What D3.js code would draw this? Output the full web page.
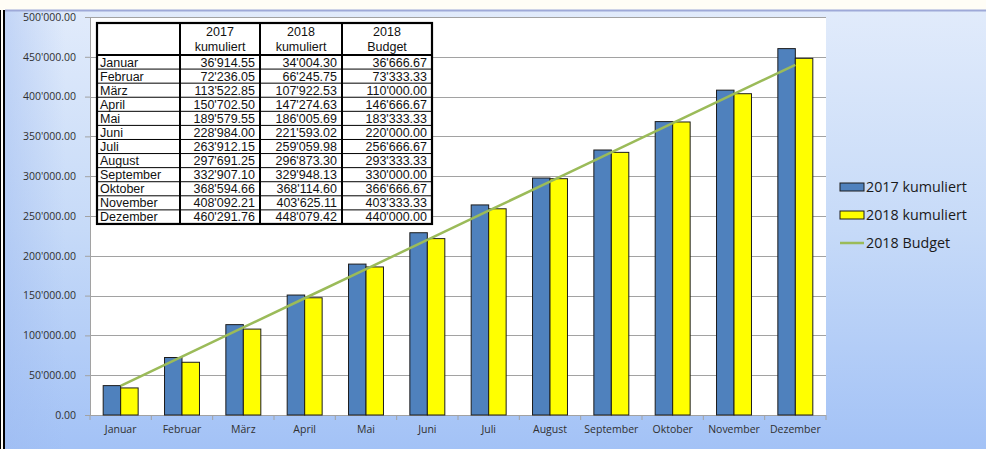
<!DOCTYPE html>
<html>
<head>
<meta charset="utf-8">
<script src="https://cdn.jsdelivr.net/npm/d3@7"></script>
<style>
  body { margin: 0; background: #fffdf6; }
  svg { display: block; }
  .tick text { font-family: "Open Sans", sans-serif; font-size: 10.5px; fill: #303030; }
  .tbl text { font-family: "Liberation Sans", Arial, sans-serif; font-size: 12.5px; fill: #111; }
  .legend text { font-family: "Open Sans", sans-serif; font-size: 14.3px; fill: #1a1a1a; }
</style>
</head>
<body>
<div class="chart"></div>
<script>
var months = ["Januar", "Februar", "März", "April", "Mai", "Juni", "Juli", "August", "September", "Oktober", "November", "Dezember"];
var kum2017 = [36914.55, 72236.05, 113522.85, 150702.50, 189579.55, 228984.00, 263912.15, 297691.25, 332907.10, 368594.66, 408092.21, 460291.76];
var kum2018 = [34004.30, 66245.75, 107922.53, 147274.63, 186005.69, 221593.02, 259059.98, 296873.30, 329948.13, 368114.60, 403625.11, 448079.42];
var budget2018 = [36666.67, 73333.33, 110000.00, 146666.67, 183333.33, 220000.00, 256666.67, 293333.33, 330000.00, 366666.67, 403333.33, 440000.00];
var seriesNames = ["2017 kumuliert", "2018 kumuliert", "2018 Budget"];
var headerTop = ["2017", "2018", "2018"];
var headerBottom = ["kumuliert", "kumuliert", "Budget"];

var svgWidth = 986;
var svgHeight = 449;
var plot = { left: 90, right: 826, top: 17, bottom: 415 };

var fmt = d3.formatLocale({ decimal: ".", thousands: "'", grouping: [3], currency: ["", ""] }).format(",.2f");

var svg = d3.select(".chart")
  .append("svg")
  .attr("width", svgWidth)
  .attr("height", svgHeight);

var defs = svg.append("defs");
var bg = defs.append("linearGradient").attr("id", "bg").attr("x1", 0).attr("y1", 0).attr("x2", 0).attr("y2", 1);
bg.append("stop").attr("offset", "0%").attr("stop-color", "#e1ebfb");
bg.append("stop").attr("offset", "50%").attr("stop-color", "#c6daf8");
bg.append("stop").attr("offset", "100%").attr("stop-color", "#a3c2f6");
var side = defs.append("linearGradient").attr("id", "side").attr("x1", 0).attr("y1", 0).attr("x2", 1).attr("y2", 0);
side.append("stop").attr("offset", "0%").attr("stop-color", "#9dbaf0").attr("stop-opacity", 0.45);
side.append("stop").attr("offset", "100%").attr("stop-color", "#9dbaf0").attr("stop-opacity", 0);

// background of the chart frame
svg.append("rect").attr("x", 0).attr("y", 0).attr("width", svgWidth).attr("height", 10).attr("fill", "#fffdf6");
svg.append("rect").attr("x", 5).attr("y", 10).attr("width", svgWidth - 5).attr("height", svgHeight - 10).attr("fill", "url(#bg)");
svg.append("rect").attr("x", 5).attr("y", 10).attr("width", 60).attr("height", svgHeight - 10).attr("fill", "url(#side)");
svg.append("line").attr("x1", 5).attr("x2", svgWidth).attr("y1", 10.5).attr("y2", 10.5)
  .attr("stroke", "#9ea9d8").attr("stroke-width", 2);
svg.append("line").attr("x1", 4).attr("x2", 4).attr("y1", 10).attr("y2", svgHeight)
  .attr("stroke", "#000").attr("stroke-width", 2);
svg.append("line").attr("x1", 0.5).attr("x2", 0.5).attr("y1", 10).attr("y2", svgHeight)
  .attr("stroke", "#000").attr("stroke-width", 1);

// plot area
svg.append("rect")
  .attr("x", plot.left).attr("y", plot.top)
  .attr("width", plot.right - plot.left).attr("height", plot.bottom - plot.top)
  .attr("fill", "#fff");

var yScale = d3.scaleLinear().domain([0, 500000]).range([plot.bottom, plot.top]);
var xScale = d3.scaleBand().domain(months).range([plot.left, plot.right])
  .paddingInner(0.43).paddingOuter(0.215);
var xStep = xScale.step();

// grid lines
svg.append("g")
  .selectAll("line")
  .data(yScale.ticks(10).filter(function(d) { return d > 0; }))
  .enter().append("line")
  .attr("x1", plot.left).attr("x2", plot.right)
  .attr("y1", function(d) { return Math.round(yScale(d)) + 0.5; })
  .attr("y2", function(d) { return Math.round(yScale(d)) + 0.5; })
  .attr("stroke", "#a2a2a2").attr("stroke-width", 1.2);

// y axis
var leftAxis = d3.axisLeft(yScale).ticks(10).tickFormat(fmt).tickSize(5).tickPadding(9);
var yAxis = svg.append("g")
  .attr("transform", "translate(" + plot.left + ",0)")
  .call(leftAxis);
yAxis.select(".domain").attr("stroke", "#a2a2a2");
yAxis.selectAll(".tick line").attr("stroke", "#a2a2a2");

// x axis
var bottomAxis = d3.axisBottom(xScale).tickSize(0).tickPadding(11);
var xAxis = svg.append("g")
  .attr("transform", "translate(0," + plot.bottom + ")")
  .call(bottomAxis);
xAxis.select(".domain").remove();
svg.append("line").attr("x1", plot.left - 5).attr("x2", plot.right)
  .attr("y1", plot.bottom + 0.5).attr("y2", plot.bottom + 0.5)
  .attr("stroke", "#a2a2a2").attr("stroke-width", 1.2);
svg.append("g")
  .selectAll("line")
  .data(d3.range(months.length + 1))
  .enter().append("line")
  .attr("x1", function(i) { return plot.left + i * xStep; })
  .attr("x2", function(i) { return plot.left + i * xStep; })
  .attr("y1", plot.bottom).attr("y2", plot.bottom + 5)
  .attr("stroke", "#a2a2a2");

// bars
var barW = xScale.bandwidth() / 2;
var bars = svg.append("g");
bars.selectAll(".b17")
  .data(months)
  .enter().append("rect")
  .attr("x", function(d) { return xScale(d); })
  .attr("y", function(d, i) { return yScale(kum2017[i]); })
  .attr("width", barW)
  .attr("height", function(d, i) { return plot.bottom - yScale(kum2017[i]); })
  .attr("fill", "#4f81bd").attr("stroke", "#1c1c1c").attr("stroke-width", 1);
bars.selectAll(".b18")
  .data(months)
  .enter().append("rect")
  .attr("x", function(d) { return xScale(d) + barW; })
  .attr("y", function(d, i) { return yScale(kum2018[i]); })
  .attr("width", barW)
  .attr("height", function(d, i) { return plot.bottom - yScale(kum2018[i]); })
  .attr("fill", "#ffff00").attr("stroke", "#1c1c1c").attr("stroke-width", 1);

// budget line
var line = d3.line()
  .x(function(d, i) { return xScale(months[i]) + xScale.bandwidth() / 2; })
  .y(function(d) { return yScale(d); });
svg.append("path")
  .datum(budget2018)
  .attr("d", line)
  .attr("fill", "none").attr("stroke", "#9bbb59").attr("stroke-width", 2.5);

// data table
var colX = [97, 180, 260, 342, 432];
var tTop = 23, headBottom = 55, rowH = 14.08;
var tBottom = headBottom + rowH * months.length;
var tbl = svg.append("g").attr("class", "tbl");
tbl.append("rect").attr("x", colX[0]).attr("y", tTop)
  .attr("width", colX[4] - colX[0]).attr("height", tBottom - tTop).attr("fill", "#fff");
tbl.selectAll(".rowline")
  .data(d3.range(1, months.length))
  .enter().append("line")
  .attr("x1", colX[0]).attr("x2", colX[4])
  .attr("y1", function(i) { return headBottom + i * rowH; })
  .attr("y2", function(i) { return headBottom + i * rowH; })
  .attr("stroke", "#000").attr("stroke-width", 1);
tbl.append("line").attr("x1", colX[0]).attr("x2", colX[4]).attr("y1", headBottom).attr("y2", headBottom)
  .attr("stroke", "#000").attr("stroke-width", 2);
tbl.selectAll(".colline")
  .data(colX.slice(1, 4))
  .enter().append("line")
  .attr("x1", function(d) { return d; }).attr("x2", function(d) { return d; })
  .attr("y1", tTop).attr("y2", tBottom)
  .attr("stroke", "#000").attr("stroke-width", 2);
tbl.append("rect").attr("x", colX[0]).attr("y", tTop)
  .attr("width", colX[4] - colX[0]).attr("height", tBottom - tTop)
  .attr("fill", "none").attr("stroke", "#000").attr("stroke-width", 2.2);

headerTop.forEach(function(h, j) {
  var cx = (colX[j + 1] + colX[j + 2]) / 2;
  tbl.append("text").attr("x", cx).attr("y", 36).attr("text-anchor", "middle").text(h);
  tbl.append("text").attr("x", cx).attr("y", 51).attr("text-anchor", "middle").text(headerBottom[j]);
});

var cols = [kum2017, kum2018, budget2018];
months.forEach(function(m, i) {
  var by = headBottom + (i + 1) * rowH - 2.5;
  tbl.append("text").attr("x", colX[0] + 3).attr("y", by).text(m);
  cols.forEach(function(arr, j) {
    tbl.append("text").attr("x", colX[j + 2] - 5).attr("y", by)
      .attr("text-anchor", "end").text(fmt(arr[i]));
  });
});

// legend
var legend = svg.append("g").attr("class", "legend");
var legendY = [187, 215, 243];
legend.append("rect").attr("x", 840).attr("y", legendY[0] - 4).attr("width", 24).attr("height", 8)
  .attr("fill", "#4f81bd").attr("stroke", "#1c1c1c");
legend.append("rect").attr("x", 840).attr("y", legendY[1] - 4).attr("width", 24).attr("height", 8)
  .attr("fill", "#ffff00").attr("stroke", "#1c1c1c");
legend.append("line").attr("x1", 840).attr("x2", 864).attr("y1", legendY[2]).attr("y2", legendY[2])
  .attr("stroke", "#9bbb59").attr("stroke-width", 2.5);
seriesNames.forEach(function(s, i) {
  legend.append("text").attr("x", 866).attr("y", legendY[i]).attr("dy", "0.35em").text(s);
});
</script>
</body>
</html>
